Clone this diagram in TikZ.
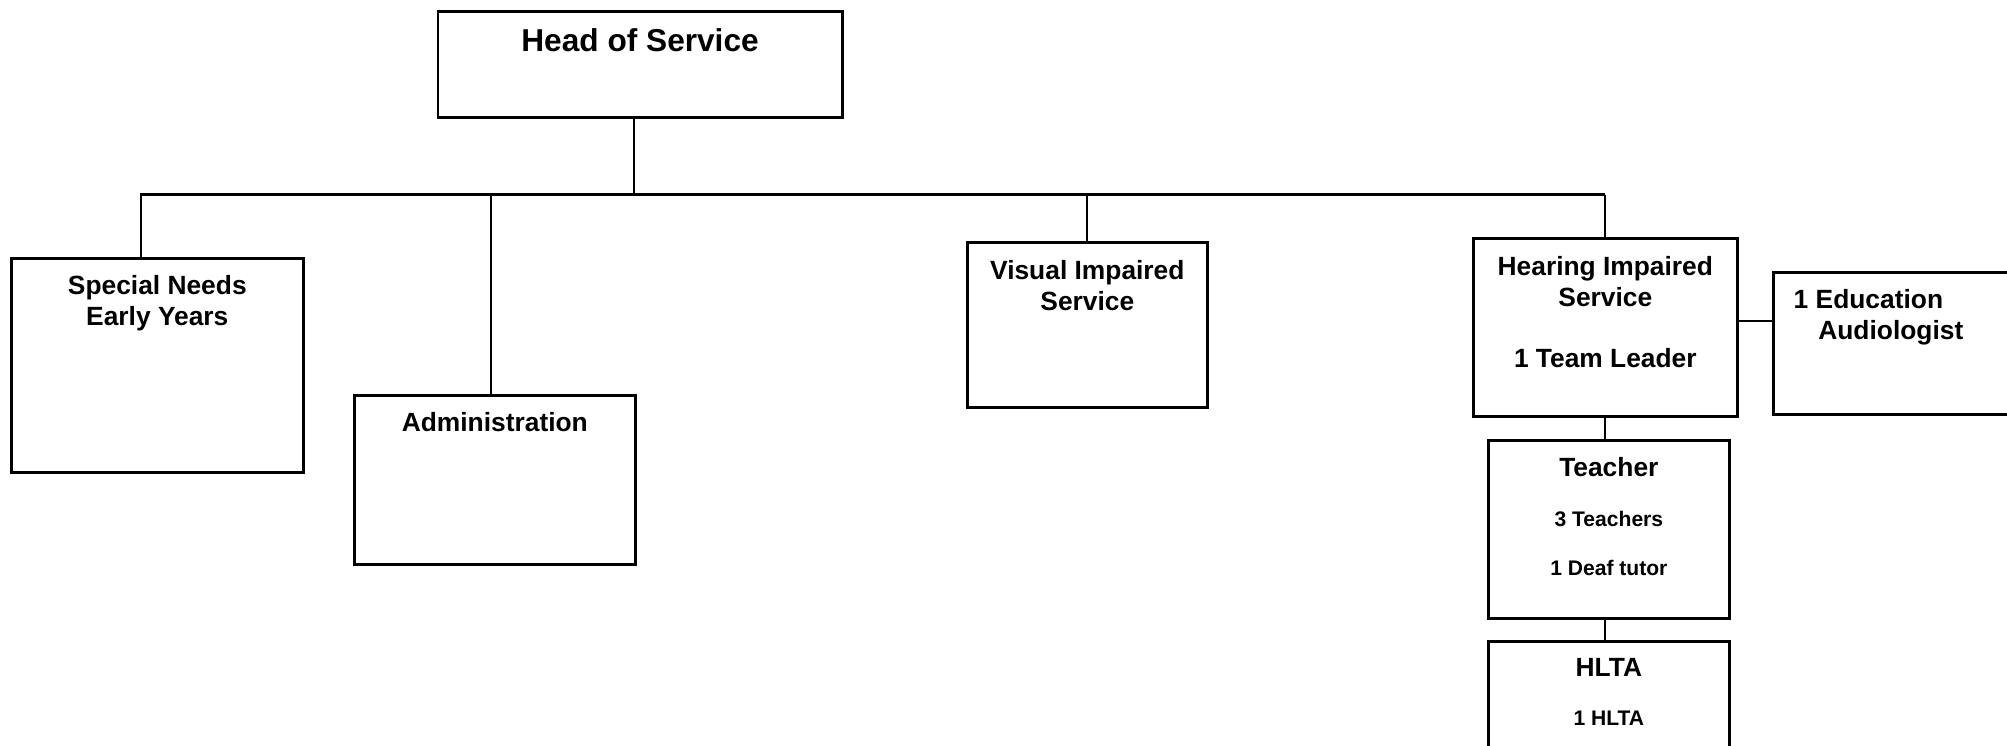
\documentclass[tikz,border=0pt]{standalone}
\usepackage{fontspec}
\setmainfont{Liberation Sans}
\usetikzlibrary{positioning}
\begin{document}
\begin{tikzpicture}[x=1cm,y=-1cm,
    unit/.style={draw,line width=0.75pt,anchor=north west,inner sep=0pt},
    title/.style={font=\bfseries\fontsize{7.5}{8.75}\selectfont,inner sep=0pt,align=center},
    small/.style={font=\bfseries\fontsize{6}{13.8}\selectfont,inner sep=0pt,align=center},
    link/.style={line width=0.65pt}]
    \useasboundingbox (0,0) rectangle (20.07,7.45);
    \clip (0,0) rectangle (20.07,7.45);
    \node[unit,minimum width=4.045cm,minimum height=1.065cm] (head) at (4.365,0.10) {};
    \node[unit,minimum width=2.92cm,minimum height=2.14cm] (sney) at (0.10,2.57) {};
    \node[unit,minimum width=2.81cm,minimum height=1.69cm] (admin) at (3.53,3.94) {};
    \node[unit,minimum width=2.40cm,minimum height=1.65cm] (visual) at (9.66,2.41) {};
    \node[unit,minimum width=2.64cm,minimum height=1.78cm] (hearing) at (14.72,2.37) {};
    \node[unit,minimum width=2.64cm,minimum height=1.42cm] (audio) at (17.72,2.71) {};
    \node[unit,minimum width=2.41cm,minimum height=1.78cm] (teacher) at (14.87,4.39) {};
    \node[unit,minimum width=2.41cm,minimum height=1.78cm] (hlta) at (14.87,6.40) {};
    \node[title,font=\bfseries\fontsize{9}{10.5}\selectfont,below=0.18cm of head.north] (headT) {Head of Service};
    \node[title,below=0.175cm of sney.north] (sneyT) {Special Needs\\Early Years};
    \node[title,below=0.175cm of admin.north] (adminT) {Administration};
    \node[title,below=0.185cm of visual.north] (visualT) {Visual Impaired\\Service};
    \node[title,below=0.185cm of hearing.north] (hearingT) {Hearing Impaired\\Service\\[8.75pt]1 Team Leader};
    \node[title,align=left,below right=0.175cm and 0.21cm of audio.north west] (audioT) {1 Education\\\hspace*{0.246cm}Audiologist};
    \node[title,below=0.175cm of teacher.north] (teacherT) {Teacher};
    \node[small,below=0.72cm of teacher.north] (teacherS) {3 Teachers\\1 Deaf tutor};
    \node[title,below=0.175cm of hlta.north] (hltaT) {HLTA};
    \node[small,below=0.705cm of hlta.north] (hltaS) {1 HLTA};
    \coordinate (hub) at (6.34,1.946);
    \coordinate (busL) at (1.41,1.946);
    \draw[link] (hub |- head.south) -- (hub);
    \draw[link] (busL |- sney.north) -- (busL) -- (busL -| hearing.north);
    \draw[link] ([xshift=-0.04cm]admin.north |- busL) -- ([xshift=-0.04cm]admin.north);
    \draw[link] (visual.north |- busL) -- (visual.north);
    \draw[link] (hearing.north |- busL) -- (hearing.north);
    \draw[link] ([yshift=0.06cm]hearing.east) coordinate (hx) -- (hx -| audio.west);
    \draw[link] (hearing.south) -- (hearing.south |- teacher.north);
    \draw[link] (hearing.south |- teacher.south) -- (hearing.south |- hlta.north);
\end{tikzpicture}
\end{document}
